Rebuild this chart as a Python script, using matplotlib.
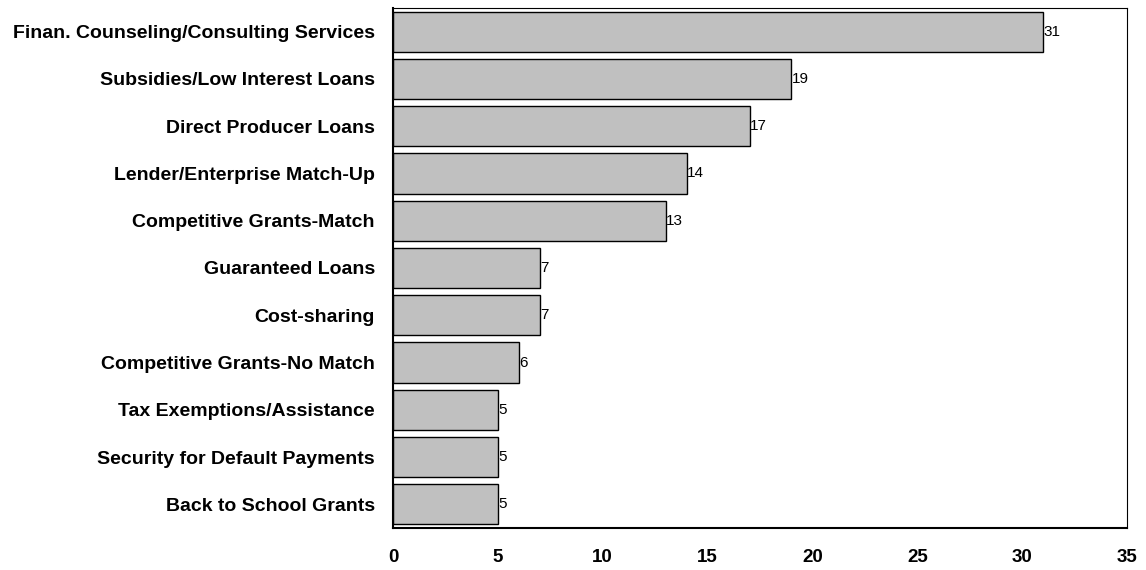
import matplotlib.pyplot as plt

categorias = ["Finan. Counseling/Consulting Services", "Subsidies/Low Interest Loans",
              "Direct Producer Loans", "Lender/Enterprise Match-Up",
              "Competitive Grants-Match", "Guaranteed Loans", "Cost-sharing",
              "Competitive Grants-No Match", "Tax Exemptions/Assistance",
              "Security for Default Payments", "Back to School Grants"]
valores = [31, 19, 17, 14, 13, 7, 7, 6, 5, 5, 5]
ticks_x = [0, 5, 10, 15, 20, 25, 30, 35]

plt.rcParams['font.family'] = ['Liberation Sans', 'DejaVu Sans']

fig = plt.figure(figsize=(11.46, 5.70), dpi=100)
ax = fig.add_axes([393 / 1146, 1 - 528 / 570, (1127 - 393) / 1146, (528 - 8) / 570])

pos = list(range(len(categorias)))
ax.barh(pos, valores, height=0.85, color="#c0c0c0", edgecolor="#000000", linewidth=1)
for p, v in zip(pos, valores):
    ax.text(v + 0.03, p, str(v), va="center", ha="left", fontsize=11)

ax.set_ylim(len(categorias) - 0.5, -0.5)
ax.set_xlim(0, 35)
ax.set_yticks(pos)
ax.set_yticklabels(categorias, fontsize=14, fontweight="bold")
ax.set_xticks(ticks_x)
ax.set_xticklabels([str(t) for t in ticks_x], fontsize=13.5, fontweight="bold")
ax.tick_params(axis="both", length=0)
ax.tick_params(axis="y", pad=13)
ax.tick_params(axis="x", pad=15)

ax.spines["left"].set_linewidth(1.5)
ax.spines["bottom"].set_linewidth(1.5)
ax.spines["top"].set_linewidth(0.8)
ax.spines["right"].set_linewidth(0.8)

fig.savefig("out.png", dpi=100)
